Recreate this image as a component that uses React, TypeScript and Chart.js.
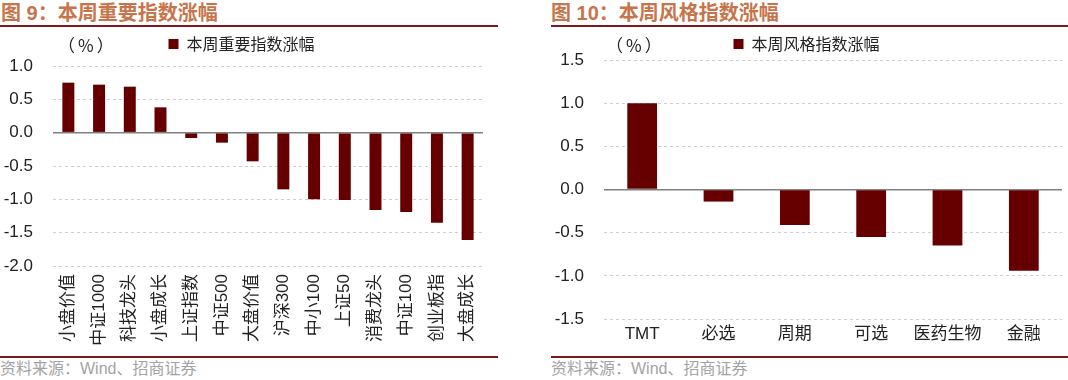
import React, { useEffect, useRef } from 'react';
import { Chart, registerables } from 'chart.js';

Chart.register(...registerables);

const leftTitle = '图 9：本周重要指数涨幅';
const rightTitle = '图 10：本周风格指数涨幅';
const sourceText = '资料来源：Wind、招商证券';
const unitText = '（%）';

const leftSeriesName = '本周重要指数涨幅';
const leftCategories = ['小盘价值', '中证1000', '科技龙头', '小盘成长', '上证指数', '中证500', '大盘价值', '沪深300', '中小100', '上证50', '消费龙头', '中证100', '创业板指', '大盘成长'];
const leftValues = [0.75, 0.72, 0.69, 0.38, -0.08, -0.15, -0.43, -0.85, -1.0, -1.01, -1.16, -1.19, -1.35, -1.61];
const leftTickValues = [1.0, 0.5, 0.0, -0.5, -1.0, -1.5, -2.0];

const rightSeriesName = '本周风格指数涨幅';
const rightCategories = ['TMT', '必选', '周期', '可选', '医药生物', '金融'];
const rightValues = [1.0, -0.14, -0.41, -0.55, -0.65, -0.94];
const rightTickValues = [1.5, 1.0, 0.5, 0.0, -0.5, -1.0, -1.5];

const BAR = '#660000';
const FONT = '"Liberation Sans", "Noto Sans CJK SC", sans-serif';
const CJK = '"Noto Sans CJK SC", "Liberation Sans", sans-serif';

const legendShift = {
  id: 'legendShift',
  afterLayout(chart: any, _args: any, opts: any) {
    const l = chart.legend;
    if (l && opts && opts.dy) {
      l.top += opts.dy;
      l.bottom += opts.dy;
    }
  },
};

function makeConfig(
  labels: string[],
  values: number[],
  name: string,
  ticks: number[],
  rotate: boolean,
  padRight: number,
  xHeight: number,
  xPad: number,
  dy: number
): any {
  const yMax = Math.max(...ticks);
  const yMin = Math.min(...ticks);
  return {
    type: 'bar',
    data: {
      labels,
      datasets: [
        {
          label: name,
          data: values,
          backgroundColor: BAR,
          borderWidth: 0,
          categoryPercentage: 1,
          barPercentage: 0.39,
        },
      ],
    },
    plugins: [legendShift],
    options: {
      animation: false,
      responsive: false,
      maintainAspectRatio: false,
      layout: { padding: { left: 0, right: padRight, top: 0, bottom: 0 } },
      plugins: {
        legendShift: { dy },
        legend: {
          display: true,
          position: 'top',
          align: 'center',
          labels: {
            boxWidth: 10,
            boxHeight: 10,
            padding: 10,
            color: '#222',
            font: { size: 16, family: CJK },
          },
        },
        tooltip: { enabled: false },
      },
      scales: {
        x: {
          grid: { display: false, drawTicks: false },
          border: { display: false },
          ticks: {
            color: '#222',
            font: { size: 17, family: FONT },
            padding: xPad,
            minRotation: rotate ? 90 : 0,
            maxRotation: rotate ? 90 : 0,
            autoSkip: false,
          },
          afterFit: (s: any) => {
            s.height = xHeight;
          },
        },
        y: {
          min: yMin,
          max: yMax,
          grid: {
            drawTicks: false,
            color: (c: any) => (c.tick && c.tick.value === 0 ? '#808080' : '#cfcfcf'),
            lineWidth: (c: any) => (c.tick && c.tick.value === 0 ? 1.5 : 1),
          },
          border: {
            display: false,
            dash: (c: any) => (c.tick && c.tick.value === 0 ? [] : [3, 3]),
          },
          ticks: {
            stepSize: 0.5,
            color: '#222',
            padding: 20,
            font: { size: 17, family: FONT },
            callback: (v: any) => Number(v).toFixed(1),
          },
          afterFit: (s: any) => {
            s.width = 53;
          },
        },
      },
    },
  };
}

function BarChart(props: {
  labels: string[];
  values: number[];
  name: string;
  ticks: number[];
  rotate: boolean;
  padRight: number;
  xHeight: number;
  xPad: number;
  dy: number;
  width: number;
  height: number;
  left: number;
  top: number;
}) {
  const ref = useRef<HTMLCanvasElement | null>(null);
  useEffect(() => {
    if (!ref.current) return;
    const chart = new Chart(
      ref.current,
      makeConfig(props.labels, props.values, props.name, props.ticks, props.rotate, props.padRight, props.xHeight, props.xPad, props.dy)
    );
    return () => chart.destroy();
  }, []);
  return (
    <canvas
      ref={ref}
      width={props.width}
      height={props.height}
      style={{ position: 'absolute', left: props.left, top: props.top, width: props.width, height: props.height }}
    />
  );
}

const titleStyle: React.CSSProperties = {
  position: 'absolute',
  top: 1,
  fontFamily: FONT,
  fontWeight: 700,
  fontSize: 20,
  lineHeight: '24px',
  color: '#c8744a',
  whiteSpace: 'nowrap',
};
const lineStyle: React.CSSProperties = { position: 'absolute', height: 2, background: '#7b1a1a' };
const sourceStyle: React.CSSProperties = {
  position: 'absolute',
  top: 359,
  fontFamily: FONT,
  fontSize: 16,
  lineHeight: '20px',
  color: '#a3a3a3',
  whiteSpace: 'nowrap',
};
const unitStyle: React.CSSProperties = {
  position: 'absolute',
  fontFamily: CJK,
  fontSize: 17,
  lineHeight: '20px',
  letterSpacing: 3,
  color: '#222',
  whiteSpace: 'nowrap',
};

export default function App() {
  useEffect(() => {
    document.body.style.margin = '0';
  }, []);
  return (
    <div style={{ position: 'relative', width: 1068, height: 380, background: '#fff', overflow: 'hidden' }}>
      <div style={{ ...titleStyle, left: 1 }}>{leftTitle}</div>
      <div style={{ ...lineStyle, left: 0, width: 498, top: 25 }} />
      <div style={{ ...titleStyle, left: 551 }}>{rightTitle}</div>
      <div style={{ ...lineStyle, left: 551, width: 517, top: 25 }} />

      <BarChart
        labels={leftCategories}
        values={leftValues}
        name={leftSeriesName}
        ticks={leftTickValues}
        rotate={true}
        padRight={15}
        xHeight={89}
        xPad={8}
        dy={-4}
        width={498}
        height={325}
        left={0}
        top={30}
      />
      <BarChart
        labels={rightCategories}
        values={rightValues}
        name={rightSeriesName}
        ticks={rightTickValues}
        rotate={false}
        padRight={6}
        xHeight={36}
        xPad={5}
        dy={2}
        width={517}
        height={331}
        left={551}
        top={24}
      />

      <div style={{ ...unitStyle, left: 58, top: 35 }}>{unitText}</div>
      <div style={{ ...unitStyle, left: 606, top: 35 }}>{unitText}</div>

      <div style={{ ...lineStyle, left: 0, width: 498, top: 356 }} />
      <div style={{ ...lineStyle, left: 551, width: 517, top: 356 }} />
      <div style={{ ...sourceStyle, left: 0 }}>{sourceText}</div>
      <div style={{ ...sourceStyle, left: 551 }}>{sourceText}</div>
    </div>
  );
}
